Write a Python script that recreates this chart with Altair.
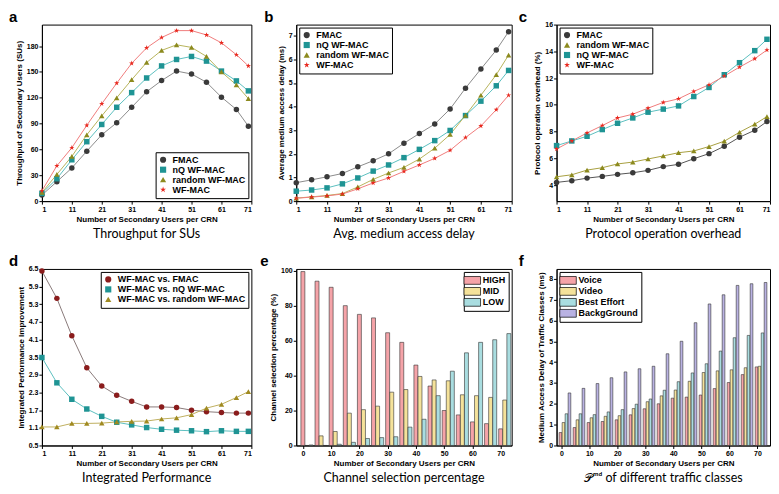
import altair as alt
import pandas as pd

# ---------------- data ----------------
users = [1, 6, 11, 16, 21, 26, 31, 36, 41, 46, 51, 56, 61, 66, 70]
x_ticks_line = [1, 11, 21, 31, 41, 51, 61, 71]

# (a) throughput
thr_names = ["FMAC", "nQ WF-MAC", "random WF-MAC", "WF-MAC"]
thr_fmac = [7, 22.6, 38.5, 58, 77, 91, 109, 127, 140, 151, 147.6, 138, 120.7, 106.4, 87]
thr_nq = [9, 26, 48, 69, 89, 109, 126, 143, 157, 164.5, 168, 162.6, 151, 139.6, 128]
thr_random = [10, 31, 52, 77, 99, 120, 141, 161, 175, 181.5, 178.5, 168, 150, 135, 119]
thr_wf = [12, 41, 62, 88, 113, 137, 160, 178, 190, 198, 198, 193, 183.8, 170, 157]

# (b) delay
del_names = ["FMAC", "nQ WF-MAC", "random WF-MAC", "WF-MAC"]
del_fmac = [0.78, 0.9, 1.03, 1.17, 1.45, 1.71, 2.0, 2.45, 2.86, 3.26, 3.9, 4.78, 5.59, 6.39, 7.17]
del_nq = [0.42, 0.47, 0.56, 0.73, 0.98, 1.27, 1.53, 1.84, 2.19, 2.56, 2.99, 3.62, 4.23, 4.88, 5.53]
del_random = [0.13, 0.18, 0.24, 0.32, 0.6, 0.92, 1.19, 1.43, 1.78, 2.24, 2.82, 3.63, 4.48, 5.35, 6.18]
del_wf = [0.12, 0.17, 0.22, 0.3, 0.52, 0.77, 0.98, 1.26, 1.53, 1.81, 2.15, 2.69, 3.18, 3.87, 4.48]

# (c) overhead
ovh_names = ["FMAC", "random WF-MAC", "nQ WF-MAC", "WF-MAC"]
ovh_fmac = [4.2, 4.33, 4.52, 4.65, 4.8, 4.92, 5.1, 5.38, 5.55, 5.97, 6.35, 6.9, 7.58, 8.1, 8.75]
ovh_random = [4.62, 4.77, 5.12, 5.3, 5.58, 5.72, 5.95, 6.18, 6.42, 6.55, 6.88, 7.28, 7.95, 8.55, 9.12]
ovh_nq = [6.95, 7.3, 7.65, 8.15, 8.62, 9.02, 9.45, 9.68, 9.92, 10.62, 11.3, 12.25, 13.15, 14.05, 14.9]
ovh_wf = [6.7, 7.3, 7.9, 8.45, 9.02, 9.3, 9.75, 10.18, 10.45, 11.0, 11.5, 12.15, 12.82, 13.45, 14.1]

# (d) integrated performance
ip_names = ["WF-MAC vs. FMAC", "WF-MAC vs. nQ WF-MAC", "WF-MAC vs. random WF-MAC"]
ip_fmac = [6.43, 5.5, 4.23, 3.14, 2.52, 2.21, 2.0, 1.81, 1.81, 1.79, 1.7, 1.65, 1.62, 1.6, 1.6]
ip_nq = [3.49, 2.63, 2.07, 1.74, 1.49, 1.29, 1.2, 1.11, 1.05, 1.02, 1.0, 0.97, 1.0, 0.98, 0.98]
ip_random = [1.13, 1.13, 1.25, 1.25, 1.26, 1.3, 1.32, 1.33, 1.4, 1.44, 1.55, 1.77, 1.9, 2.13, 2.33]
ip_ticks = [0.5, 1.1, 1.7, 2.3, 2.9, 3.5, 4.1, 4.7, 5.3, 5.9, 6.5]

# (e) channel selection
bar_users = [0, 5, 10, 15, 20, 25, 30, 35, 40, 45, 50, 55, 60, 65, 70]
ch_names = ["HIGH", "MID", "LOW"]
ch_high = [99.5, 94, 90.5, 80, 75, 73, 64.5, 59, 46, 34, 20, 17.5, 13.5, 12.5, 9.5]
ch_mid = [0, 5.5, 8, 18.5, 20.5, 22.5, 30.5, 32, 39.5, 37.5, 37, 29, 28.5, 27.5, 26]
ch_low = [0.3, 0, 0.7, 1.8, 4, 4.5, 5, 10.5, 15, 28.5, 42.5, 53, 59, 60.5, 64]

# (f) traffic classes
tc_names = ["Voice", "Video", "Best Effort", "BackgGround"]
tc_voice = [0.62, 0.86, 1.1, 1.15, 1.23, 1.47, 1.76, 2.0, 2.27, 2.32, 2.42, 2.73, 3.02, 3.4, 3.77]
tc_video = [1.1, 1.23, 1.33, 1.4, 1.43, 1.77, 2.1, 2.38, 2.66, 3.08, 3.5, 3.58, 3.63, 3.73, 3.8]
tc_be = [1.52, 1.52, 1.48, 1.61, 1.72, 1.98, 2.23, 2.65, 3.06, 3.48, 3.92, 4.53, 5.17, 5.28, 5.4]
tc_bg = [2.52, 2.74, 2.97, 3.25, 3.53, 3.68, 3.8, 4.4, 5.0, 5.89, 6.79, 7.23, 7.68, 7.76, 7.82]

# ---------------- styles ----------------
STAR = ("M0,-1L0.2245,-0.309L0.951,-0.309L0.363,0.118L0.588,0.809L0,0.382"
        "L-0.588,0.809L-0.363,0.118L-0.951,-0.309L-0.2245,-0.309Z")
RECT = "M-1.7,-0.8H1.7V0.8H-1.7Z"
FONT = "Liberation Sans"
CAP_FONT = "Lato"
XTITLE = "Number of Secondary Users per CRN"


def legend(orient, rect=False):
    kw = dict(title=None, orient=orient, offset=3, padding=3, fillColor="white",
              strokeColor="black", labelFont=FONT, labelFontSize=9,
              labelFontWeight="bold", labelColor="black", rowPadding=0, labelOffset=5)
    if rect:
        kw.update(symbolType=RECT, symbolSize=95, symbolStrokeColor="black",
                  symbolStrokeWidth=0.7)
    else:
        kw.update(symbolSize=38)
    return alt.Legend(**kw)


def letter_layer(letter, dx):
    return alt.Chart(pd.DataFrame({"t": [letter]})).mark_text(
        align="left", baseline="alphabetic", fontSize=15, fontWeight="bold",
        font=FONT, color="black"
    ).encode(text="t:N", x=alt.value(dx), y=alt.value(-3))


def caption(text):
    return alt.TitleParams(text=text, orient="bottom", anchor="middle", fontSize=12.5,
                           font=CAP_FONT, fontWeight="normal", color="black", offset=5)


def line_panel(key, names, series, mk, ln, shapes, ydom, yticks, ytitle, orient,
               letter, dx, cap, w, h, yfmt=None):
    rows = []
    for nm, vals in zip(names, series):
        for u, v in zip(users, vals):
            rows.append({"n" + key: u, "v" + key: v, "s" + key: nm})
    df = pd.DataFrame(rows)
    x = alt.X(f"n{key}:Q", scale=alt.Scale(domain=[1, 71], nice=False, zero=False),
              axis=alt.Axis(values=x_ticks_line, title=XTITLE))
    ax = dict(values=yticks, title=ytitle)
    if yfmt:
        ax["format"] = yfmt
    y = alt.Y(f"v{key}:Q", scale=alt.Scale(domain=ydom, nice=False, zero=False),
              axis=alt.Axis(**ax))
    layers = []
    for nm, c in zip(names, ln):
        layers.append(
            alt.Chart(df).transform_filter(alt.datum["s" + key] == nm)
            .mark_line(strokeWidth=1, color=c).encode(x=x, y=y)
        )
    lg = legend(orient)
    pts = alt.Chart(df).mark_point(filled=True, opacity=1, size=30).encode(
        x=x, y=y,
        color=alt.Color(f"s{key}:N", scale=alt.Scale(domain=names, range=mk), legend=lg),
        shape=alt.Shape(f"s{key}:N", scale=alt.Scale(domain=names, range=shapes), legend=lg),
    )
    layers += [pts, letter_layer(letter, dx)]
    return alt.layer(*layers).properties(width=w, height=h, title=caption(cap))


def bar_panel(key, names, series, colors, step, shift, bw, xdom, ydom, yticks, ytitle,
              orient, letter, dx, cap, w, h):
    rows = []
    for k, (nm, vals) in enumerate(zip(names, series)):
        for u, v in zip(bar_users, vals):
            rows.append({"n": u, "v" + key: v, "c" + key: nm, "k": k})
    df = pd.DataFrame(rows)
    bars = alt.Chart(df).transform_calculate(
        xc=f"datum.n + datum.k*{step} + ({shift})"
    ).transform_calculate(
        **{"x0" + key: f"datum.xc - {bw / 2}", "x1" + key: f"datum.xc + {bw / 2}"}
    ).mark_bar(stroke="#333333", strokeWidth=0.6, clip=True).encode(
        x=alt.X(f"x0{key}:Q", scale=alt.Scale(domain=xdom, nice=False, zero=False),
                axis=alt.Axis(values=list(range(0, 71, 10)), title=XTITLE)),
        x2=f"x1{key}:Q",
        y=alt.Y(f"v{key}:Q", scale=alt.Scale(domain=ydom, nice=False, zero=True),
                axis=alt.Axis(values=yticks, title=ytitle)),
        y2=alt.datum(0),
        color=alt.Color(f"c{key}:N", scale=alt.Scale(domain=names, range=colors),
                        legend=legend(orient, rect=True)),
    )
    return alt.layer(bars, letter_layer(letter, dx)).properties(
        width=w, height=h, title=caption(cap))


W1, W2, W3 = 210, 216, 214
H = 177

pa = line_panel("a", thr_names, [thr_fmac, thr_nq, thr_random, thr_wf],
                ["#3a3a3a", "#1f9494", "#8c8a1e", "#e8281e"],
                ["#8c8c8c", "#5cc0c0", "#b8b45c", "#f07c7c"],
                ["circle", "square", "triangle-up", STAR],
                [0, 205], list(range(0, 181, 30)), "Throughput of Secondary Users (SUs)",
                "bottom-right", "a", -33, "Throughput for SUs", W1, H)

pb = line_panel("b", del_names, [del_fmac, del_nq, del_random, del_wf],
                ["#3a3a3a", "#1f9494", "#8c8a1e", "#e8281e"],
                ["#8c8c8c", "#5cc0c0", "#b8b45c", "#f07c7c"],
                ["circle", "square", "triangle-up", STAR],
                [0, 7.47], list(range(0, 8)), "Average medium access delay (ms)",
                "top-left", "b", -32, "Avg. medium access delay", W2, H)

pc = line_panel("c", ovh_names, [ovh_fmac, ovh_random, ovh_nq, ovh_wf],
                ["#3a3a3a", "#8c8a1e", "#1f9494", "#e8281e"],
                ["#555555", "#a8a040", "#5cc0c0", "#f07c7c"],
                ["circle", "triangle-up", "square", STAR],
                [2.8, 16], list(range(4, 17, 2)), "Protocol operation overhead (%)",
                "top-left", "c", -38, "Protocol operation overhead", W3, H)

pd_ = line_panel("d", ip_names, [ip_fmac, ip_nq, ip_random],
                 ["#8a1c1c", "#1f9494", "#a08a20"],
                 ["#8a7a7a", "#5cc0c0", "#c0b060"],
                 ["circle", "square", "triangle-up"],
                 [0.5, 6.5], ip_ticks, "Integrated Performance Improvement",
                 "top-right", "d", -33, "Integrated Performance", W1, H, yfmt=".1f")

pe = bar_panel("e", ch_names, [ch_high, ch_mid, ch_low],
               ["#f5a3a8", "#f5e29a", "#a9dde0"],
               1.45, 0, 1.4, [-2.35, 73.9], [0, 101], list(range(0, 101, 20)),
               "Channel selection percentage (%)", "top-right", "e", -36,
               "Channel selection percentage", W2, H)

pf = bar_panel("f", tc_names, [tc_voice, tc_video, tc_be, tc_bg],
               ["#f5a3a8", "#f5e29a", "#a9dde0", "#b9b2e3"],
               1.07, -0.3, 0.95, [-1.7, 74.5], [0, 8.47], list(range(0, 9)),
               "Medium Access Delay of Traffic Classes (ms)", "top-left", "f", -38,
               "\U0001D4ABᵐᵈ of different traffic classes", W3, H)

chart = alt.concat(pa, pb, pc, pd_, pe, pf, columns=3,
                   spacing={"row": 68, "column": 45}, bounds="flush").resolve_scale(
    x="independent", y="independent", color="independent", shape="independent"
).properties(
    padding=0
).configure_view(
    stroke="black", strokeWidth=1
).configure_axis(
    labelFont=FONT, labelFontSize=7, labelFontWeight="bold", labelColor="black",
    titleFont=FONT, titleFontSize=8, titleFontWeight="bold", titleColor="black",
    tickSize=3, tickColor="black", domainColor="black", grid=False,
    labelPadding=1, titlePadding=3
)

chart.save("out.html", embed_options={"renderer": "svg", "actions": False})
